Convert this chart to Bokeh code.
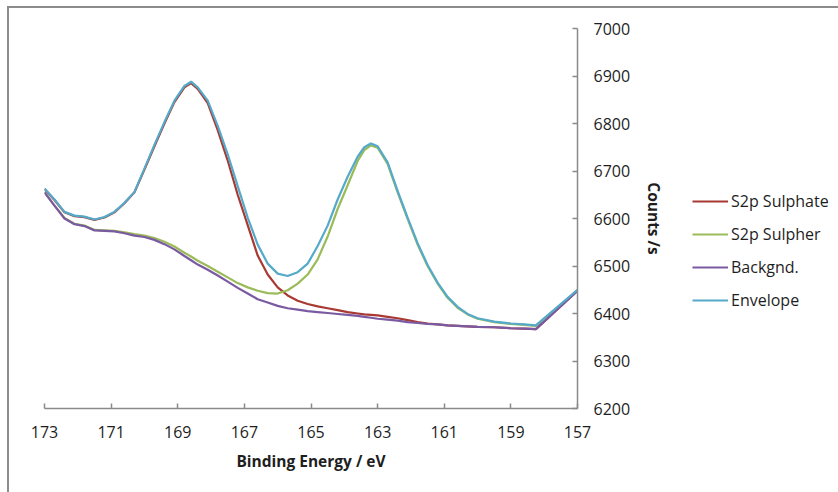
from bokeh.plotting import figure
from bokeh.layouts import row
from bokeh.models import (ColumnDataSource, LinearAxis, FixedTicker, Range1d,
                          Legend, LegendItem)
from bokeh.embed import file_html
from bokeh.resources import INLINE

# Binding energy grid (eV)
energy = [173.0, 172.7, 172.4, 172.1, 171.8, 171.5, 171.2, 170.9, 170.6, 170.3,
          170.0, 169.7, 169.4, 169.1, 168.8, 168.6, 168.4, 168.1, 167.8, 167.5,
          167.2, 166.9, 166.6, 166.3, 166.0, 165.7, 165.4, 165.1, 164.8, 164.5,
          164.2, 163.9, 163.6, 163.4, 163.2, 163.0, 162.7, 162.4, 162.1, 161.8,
          161.5, 161.2, 160.9, 160.6, 160.3, 160.0, 159.5, 159.0, 158.6, 158.25,
          157.0]

# Fitted components (counts /s)
sulphate = [6662, 6639, 6613, 6605, 6603, 6597, 6602, 6613, 6632, 6655,
            6703, 6752, 6800, 6845, 6876, 6885, 6873, 6843, 6786, 6722,
            6650, 6586, 6522, 6482, 6455, 6438, 6427, 6420, 6415, 6411,
            6407, 6403, 6400, 6398, 6397, 6396, 6393, 6390, 6386, 6382,
            6379, 6377, 6375, 6374, 6373, 6372, 6371, 6369, 6368, 6367,
            6448]

sulpher = [6655, 6627, 6601, 6589, 6585, 6576, 6575, 6574, 6571, 6567,
           6564, 6559, 6551, 6541, 6528, 6520, 6511, 6500, 6488, 6476,
           6464, 6455, 6448, 6443, 6442, 6449, 6463, 6482, 6514, 6562,
           6620, 6670, 6721, 6744, 6754, 6749, 6715, 6655, 6599, 6545,
           6500, 6463, 6433, 6412, 6398, 6389, 6382, 6378, 6376, 6374,
           6449]

backgnd = [6655, 6627, 6600, 6588, 6584, 6575, 6574, 6573, 6569, 6564,
           6561, 6555, 6546, 6535, 6521, 6512, 6503, 6492, 6480, 6467,
           6454, 6442, 6430, 6423, 6416, 6411, 6408, 6405, 6403, 6401,
           6399, 6397, 6395, 6393, 6391, 6389, 6387, 6385, 6382, 6380,
           6378, 6377, 6375, 6374, 6373, 6372, 6371, 6369, 6368, 6367,
           6448]

envelope = [6663, 6640, 6614, 6606, 6604, 6598, 6603, 6614, 6633, 6656,
            6705, 6755, 6803, 6848, 6879, 6888, 6876, 6848, 6795, 6735,
            6668, 6602, 6545, 6505, 6484, 6479, 6487, 6505, 6542, 6585,
            6640, 6688, 6730, 6750, 6758, 6752, 6718, 6658, 6602, 6548,
            6502, 6465, 6435, 6414, 6399, 6390, 6383, 6379, 6377, 6375,
            6450]

series_names = ["S2p Sulphate", "S2p Sulpher", "Backgnd.", "Envelope"]
series_colors = ["#A83A33", "#9BBB59", "#7A5AA0", "#55A9C9"]
series_cols = ["s1", "s2", "bg", "env"]
x_ticks = [157, 159, 161, 163, 165, 167, 169, 171, 173]
y_ticks = [6200, 6300, 6400, 6500, 6600, 6700, 6800, 6900, 7000]

FONT = "Open Sans"
TEXT = "#1e1e1e"
AXIS = "#8a8a8a"
H = 484

src = ColumnDataSource(dict(e=energy, s1=sulphate, s2=sulpher,
                            bg=backgnd, env=envelope))

# Main spectrum panel
p = figure(width=668, height=H, output_backend="svg", toolbar_location=None,
           x_range=Range1d(173, 157), y_range=Range1d(6200, 7000),
           x_axis_location=None, y_axis_location=None,
           min_border_left=35, min_border_right=100,
           min_border_top=20, min_border_bottom=84)
p.grid.visible = False
p.outline_line_color = None
p.background_fill_color = "white"
p.border_fill_color = "white"

for col, color in zip(series_cols, series_colors):
    p.line("e", col, source=src, line_color=color, line_width=2.2)

xaxis = LinearAxis(ticker=FixedTicker(ticks=x_ticks),
                   axis_label="Binding Energy / eV")
yaxis = LinearAxis(ticker=FixedTicker(ticks=y_ticks), axis_label="Counts /s")
for ax in (xaxis, yaxis):
    ax.axis_line_color = AXIS
    ax.axis_line_width = 1.5
    ax.major_tick_line_color = AXIS
    ax.major_tick_line_width = 1.5
    ax.major_tick_in = 5
    ax.major_tick_out = 0
    ax.minor_tick_line_color = None
    ax.major_label_text_font = FONT
    ax.major_label_text_font_size = "16px"
    ax.major_label_text_color = TEXT
    ax.axis_label_text_font = FONT
    ax.axis_label_text_font_size = "15.5px"
    ax.axis_label_text_font_style = "bold"
    ax.axis_label_text_color = TEXT
xaxis.major_label_standoff = 17
xaxis.axis_label_standoff = 9
yaxis.major_label_standoff = 16
yaxis.axis_label_standoff = 10
p.add_layout(xaxis, "below")
p.add_layout(yaxis, "right")

# Legend panel beside the spectrum; its key lines use the same series,
# which fall outside this panel's (0, 1) ranges and so stay hidden.
lg = figure(width=161, height=H, output_backend="svg", toolbar_location=None,
            x_range=Range1d(0, 1), y_range=Range1d(0, 1),
            x_axis_location=None, y_axis_location=None,
            min_border=0)
lg.grid.visible = False
lg.outline_line_color = None
lg.background_fill_color = "white"
lg.border_fill_color = "white"
keys = [lg.line("e", col, source=src, line_color=c, line_width=2.2)
        for col, c in zip(series_cols, series_colors)]

legend = Legend(items=[LegendItem(label=n, renderers=[r])
                       for n, r in zip(series_names, keys)],
                location=(15, 97), orientation="vertical",
                padding=0, margin=0, spacing=11,
                glyph_width=36, glyph_height=20, label_height=20,
                label_standoff=3,
                label_text_font=FONT, label_text_font_size="16px",
                label_text_color=TEXT,
                border_line_color=None, background_fill_alpha=0)
lg.add_layout(legend, "center")

# Grey chart-area border along the left and top edges
chart = row(p, lg, spacing=0, margin=(6, 0, 0, 7),
            styles={"border-left": "2px solid #8c8c8c",
                    "border-top": "2px solid #8c8c8c"})

open("out.html", "w").write(file_html(chart, INLINE))
